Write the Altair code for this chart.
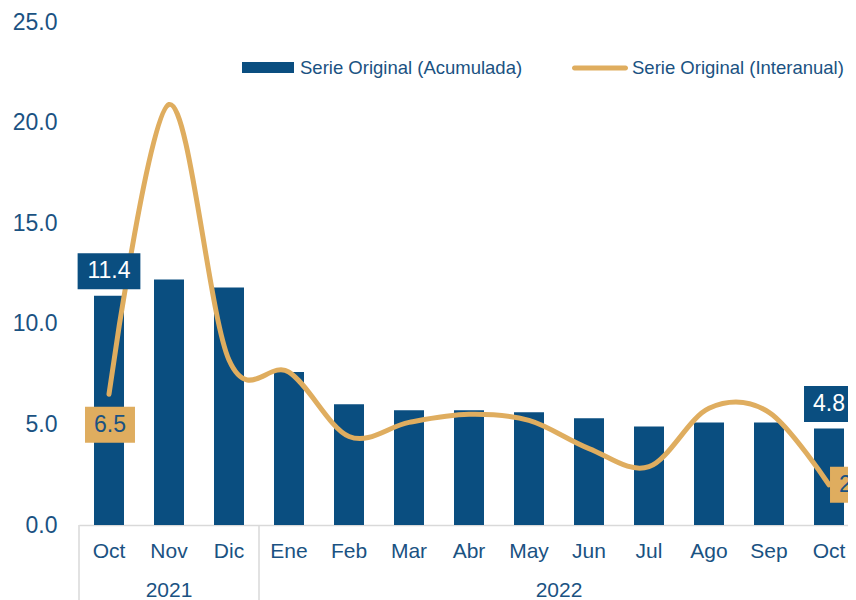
import altair as alt
import pandas as pd

# ---------------- data ----------------
meses = ["Oct", "Nov", "Dic", "Ene", "Feb", "Mar", "Abr", "May", "Jun", "Jul", "Ago", "Sep", "Oct"]
anios = ["2021", "2021", "2021", "2022", "2022", "2022", "2022", "2022", "2022", "2022", "2022", "2022", "2022"]
acumulada = [11.4, 12.2, 11.8, 7.6, 6.0, 5.7, 5.7, 5.6, 5.3, 4.9, 5.1, 5.1, 4.8]
interanual = [6.5, 20.9, 8.2, 7.6, 4.4, 5.1, 5.5, 5.2, 3.8, 2.9, 5.8, 5.6, 2.0]
serie_barras = "Serie Original (Acumulada)"
serie_linea = "Serie Original (Interanual)"
y_ticks = [0, 5, 10, 15, 20, 25]

keys = [f"{a}|{m}" for a, m in zip(anios, meses)]
df = pd.DataFrame({
    "key": keys, "mes": meses, "anio": anios,
    "acum": acumulada, "inter": interanual,
    "idx": list(range(len(meses))),
    "s_bar": serie_barras, "s_line": serie_linea,
})

# ---------------- style ----------------
BLUE_TXT = "#1A5282"
BAR = "#0A4E80"
GOLD = "#DFAD5F"
GRID = "#D9D9D9"
FONT = "Liberation Sans"
W, H = 769, 503
X_RANGE = 780  # band range runs past the visible edge (clipped like the original)
PAD_BOTTOM = 75


def X(**kw):
    return alt.X(
        "key:N", sort=keys,
        scale=alt.Scale(domain=keys, paddingInner=0, paddingOuter=0, range=[0, X_RANGE]),
        axis=alt.Axis(title=None, labelExpr="split(datum.label, '|')[1]", labelAngle=0,
                      labelFontSize=21, labelFont=FONT, labelColor=BLUE_TXT, ticks=False,
                      labelPadding=15, domainColor=GRID, domainWidth=1.5, grid=False,
                      labelOverlap=False),
        **kw)


def Y(field):
    return alt.Y(
        f"{field}:Q",
        scale=alt.Scale(domain=[0, 25], nice=False, zero=True),
        axis=alt.Axis(title=None, values=y_ticks, format=".1f", labelFontSize=23,
                      labelFont=FONT, labelColor=BLUE_TXT, ticks=False, domain=False,
                      grid=False, labelPadding=22))


base = alt.Chart(df)

bars = base.mark_bar(width=alt.RelativeBandSize(0.5)).encode(
    x=X(), y=Y("acum"),
    fill=alt.Fill("s_bar:N", scale=alt.Scale(range=[BAR]),
                  legend=alt.Legend(orient="none", legendX=163, legendY=19.5, title=None,
                                    symbolType="M-1,-0.21H1V0.21H-1Z", symbolSize=2704,
                                    symbolStrokeWidth=0, labelFont=FONT, labelFontSize=18.5,
                                    labelColor=BLUE_TXT, labelOffset=6, labelLimit=0,
                                    padding=0)),
)

line = base.mark_line(interpolate="cardinal", strokeWidth=5, strokeCap="round").encode(
    x=X(), y=Y("inter"),
    stroke=alt.Stroke("s_line:N", scale=alt.Scale(range=[GOLD]),
                      legend=alt.Legend(orient="none", legendX=493, legendY=18, title=None,
                                        symbolType="M-0.911,-0.089H0.911A0.089,0.089,0,0,1,0.911,0.089H-0.911A0.089,0.089,0,0,1,-0.911,-0.089Z",
                                        symbolSize=3136, symbolFillColor=GOLD,
                                        symbolStrokeWidth=0, labelFont=FONT,
                                        labelFontSize=18.5, labelColor=BLUE_TXT,
                                        labelOffset=4, labelLimit=0, padding=0)),
)


def etiqueta(filtro, campo, fondo, color_txt, dx=0, dy=0):
    b = alt.Chart(df).transform_filter(filtro).transform_calculate(
        txt=f"format(datum.{campo}, '.1f')"
    ).transform_calculate(
        w="18 + 23*(0.556*(length(datum.txt)-1) + 0.278)"
    ).transform_calculate(
        sz="datum.w*datum.w",
        shp="'M-1,' + (-36/datum.w) + 'H1V' + (36/datum.w) + 'H-1Z'",
    )
    caja = b.mark_point(filled=True, opacity=1, color=fondo, strokeWidth=0,
                        xOffset=dx, yOffset=dy).encode(
        x=X(), y=Y(campo),
        shape=alt.Shape("shp:N", scale=None),
        size=alt.Size("sz:Q", scale=None))
    texto = b.mark_text(font=FONT, fontSize=23, color=color_txt, dx=dx, dy=dy,
                        baseline="middle").encode(
        x=X(), y=Y(campo), text="txt:N")
    return caja + texto


n = len(keys)
lab_bar_first = etiqueta("datum.idx == 0", "acum", BAR, "#FFFFFF", dy=-24.5)
lab_bar_last = etiqueta(f"datum.idx == {n-1}", "acum", BAR, "#FFFFFF", dy=-24.5)
lab_line_first = etiqueta("datum.idx == 0", "inter", GOLD, BLUE_TXT, dx=1, dy=30.5)
lab_line_last = etiqueta(f"datum.idx == {n-1}", "inter", GOLD, BLUE_TXT, dx=26)

# year group labels and separators
grupos = []
start = 0
for a in dict.fromkeys(anios):
    cnt = anios.count(a)
    grupos.append((a, start, cnt))
    start += cnt

capas_anio = []
for a, s, cnt in grupos:
    mid = s + cnt / 2
    i = int(mid)
    bp = mid - i
    capas_anio.append(
        alt.Chart(df).transform_filter(f"datum.idx == {i}").mark_text(
            font=FONT, fontSize=21, color=BLUE_TXT, baseline="alphabetic", align="center"
        ).encode(x=X(bandPosition=bp), y=alt.value(H + 72), text=alt.value(a))
    )

sep_idx = [s for _, s, _ in grupos]
sep_left = alt.Chart(df).transform_filter(
    alt.FieldOneOfPredicate(field="idx", oneOf=sep_idx)
).mark_rule(color=GRID, strokeWidth=1.5).encode(
    x=X(bandPosition=0), y=alt.value(H), y2=alt.value(H + 80))
sep_right = alt.Chart(df).transform_filter(f"datum.idx == {n-1}").mark_rule(
    color=GRID, strokeWidth=1.5).encode(
    x=X(bandPosition=1), y=alt.value(H), y2=alt.value(H + 80))

chart = alt.layer(
    bars, line, sep_left, sep_right, *capas_anio,
    lab_bar_first, lab_bar_last, lab_line_first, lab_line_last,
).resolve_scale(fill="independent", stroke="independent").properties(
    width=W, height=H,
    autosize=alt.AutoSizeParams(type="none"),
    padding={"left": 71, "top": 14, "right": 0, "bottom": PAD_BOTTOM},
).configure_view(stroke=None)

chart.save("out.html", embed_options={"renderer": "svg", "actions": False})
